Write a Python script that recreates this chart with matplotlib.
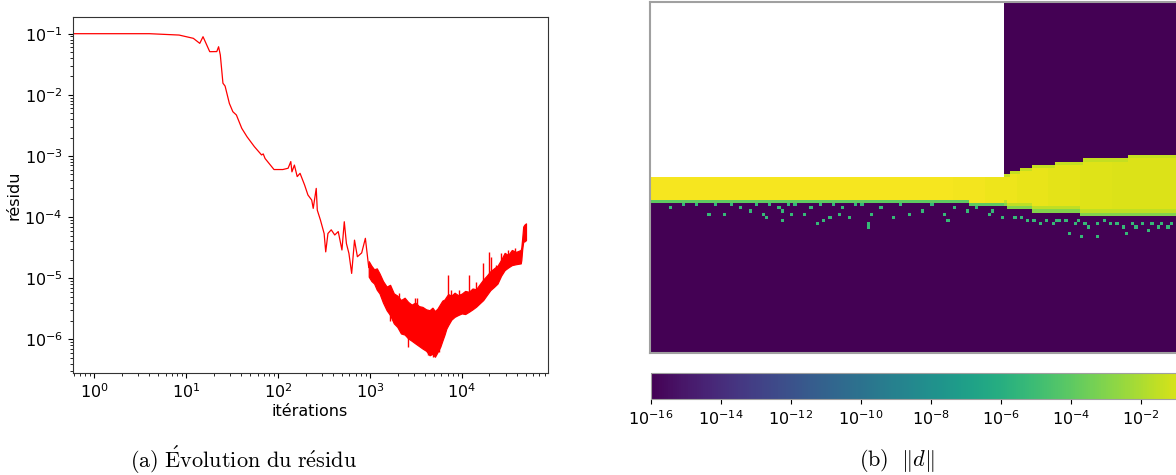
import numpy as np
import matplotlib.pyplot as plt
from matplotlib.colors import LogNorm

plt.rcParams['mathtext.fontset'] = 'cm'

# --- (a) évolution du résidu : courbe ---
iter_main = [0, 1, 4, 8.4, 12, 14.1, 15.3, 18.1, 21.6, 22.6, 23.6, 25.2, 26.6, 29.6,
             32.3, 35.3, 40.4, 46.1, 55.4, 66.3, 69.2, 72.4, 90.6, 113, 129, 138, 142,
             151, 162, 174, 195, 212, 233, 242, 261, 268, 290, 318, 331, 350, 380, 415,
             453, 497, 527, 556, 592, 634, 681, 732, 815, 894, 973]
res_main = [0.1, 0.1, 0.1, 0.095, 0.084, 0.0695, 0.0893, 0.0508, 0.051, 0.0612, 0.0448,
            0.0155, 0.0139, 0.00724, 0.0053, 0.00468, 0.00283, 0.00206, 0.00142, 0.00104,
            0.00108, 0.00091, 0.00060, 0.00060, 0.00063, 0.00081, 0.00055, 0.00071,
            0.00046, 0.00052, 0.000335, 0.00023, 0.00019, 0.000139, 0.000295, 0.00013,
            8.95e-5, 5.4e-5, 2.7e-5, 5.4e-5, 6.2e-5, 5.1e-5, 5.8e-5, 2.9e-5, 8.4e-5,
            3.7e-5, 2.55e-5, 1.2e-5, 4.2e-5, 2.25e-5, 2.6e-5, 4.5e-5, 1.5e-5]

# zone bruitée : enveloppes haute / basse
band_iter = [973, 1040, 1113, 1190, 1274, 1390, 1523, 1660, 1823, 1990, 2181, 2390, 2609,
             2850, 3120, 3420, 3733, 4100, 4467, 4800, 5108, 5450, 5843, 6150, 6500, 6800,
             7116, 7700, 8360, 9100, 10000, 10900, 11960, 13100, 14310, 15700, 17120,
             18700, 20480, 22400, 24500, 26800, 29300, 32000, 35080, 39000, 43850, 44500,
             45500, 46670, 48000, 50000]
band_hi = [1.9e-5, 1.6e-5, 1.4e-5, 1.45e-5, 1.2e-5, 9.0e-6, 7.3e-6, 7.8e-6, 5.65e-6, 5.2e-6,
           4.4e-6, 4.8e-6, 4.1e-6, 3.7e-6, 4.0e-6, 3.5e-6, 3.4e-6, 3.1e-6, 3.0e-6, 3.3e-6,
           2.9e-6, 3.2e-6, 3.8e-6, 4.3e-6, 4.5e-6, 5.0e-6, 5.5e-6, 5.2e-6, 5.8e-6, 5.3e-6,
           5.6e-6, 6.2e-6, 6.0e-6, 6.8e-6, 6.6e-6, 8.0e-6, 9.5e-6, 1.1e-5, 1.3e-5, 1.45e-5,
           1.6e-5, 2.0e-5, 2.6e-5, 2.4e-5, 2.9e-5, 2.7e-5, 2.9e-5, 3.2e-5, 4.5e-5, 7.0e-5,
           7.5e-5, 7.9e-5]
band_lo = [1.06e-5, 9.0e-6, 8.2e-6, 6.5e-6, 5.65e-6, 4.0e-6, 3.0e-6, 2.5e-6, 1.83e-6, 1.6e-6,
           1.25e-6, 1.2e-6, 1.04e-6, 9.5e-7, 8.6e-7, 7.8e-7, 7.1e-7, 6.5e-7, 5.5e-7, 5.8e-7,
           5.2e-7, 6.2e-7, 7.6e-7, 9.5e-7, 1.2e-6, 1.5e-6, 1.71e-6, 2.1e-6, 2.34e-6, 2.5e-6,
           2.66e-6, 2.6e-6, 2.83e-6, 3.1e-6, 3.42e-6, 3.9e-6, 4.4e-6, 5.3e-6, 6.4e-6, 7.2e-6,
           8.2e-6, 1.1e-5, 1.36e-5, 1.5e-5, 1.64e-5, 1.7e-5, 1.75e-5, 2.0e-5, 3.0e-5, 3.96e-5,
           4.0e-5, 4.2e-5]

# pics isolés (vers le haut et vers le bas)
spike_iter = [1667, 2084, 2609, 3120, 3265, 4270, 4870, 5590, 7116, 7640, 9390, 11960,
              14310, 17120, 19590, 21040, 23420, 26800, 32000, 38350]
spike_low = [2.0e-6, 3.0e-6, 7.5e-7, 2.0e-6, 3.0e-6, 5.5e-7, 5.2e-7, 6.3e-7, 4.0e-6,
             4.5e-6, 4.0e-6, 5.0e-6, 6.0e-6, 8.0e-6, 1.0e-5, 1.1e-5, 1.2e-5, 1.5e-5,
             2.0e-5, 2.2e-5]
spike_top = [4.0e-6, 5.65e-6, 2.0e-6, 4.7e-6, 4.7e-6, 1.5e-6, 1.5e-6, 1.8e-6, 1.13e-5,
             6.4e-6, 6.5e-6, 1.13e-5, 8.7e-6, 1.75e-5, 2.72e-5, 2.2e-5, 1.65e-5, 2.55e-5,
             2.9e-5, 3.1e-5]

# --- (b) champ ||d|| sur grille ---
ny, nx = 110, 176
step_cols, step_rows = 111, 55          # marche (zone blanche)
top_cols = [0, 111, 113, 116, 120, 127, 136, 150, 168]
top_rows = [55, 54, 53, 52, 51, 50, 49, 48, 47]
bot_cols = [0, 100, 112, 120, 135]
bot_rows = [63, 64, 65, 66, 67]
core_cols = [0, 95, 105, 115, 125, 135, 145]
core_vals = [0.6, 0.5, 0.4, 0.3, 0.22, 0.17, 0.14]
speck_cols = [6, 18, 23, 31, 35, 36, 41, 41, 44, 48, 52, 54, 56, 59, 62, 68, 68, 69, 76,
              81, 85, 92, 93, 99, 106, 107, 110, 114, 120, 122, 126, 130, 133, 136, 137,
              140, 144, 148, 149, 152, 156, 159, 162, 165, 131, 135, 140, 168, 171, 174,
              10, 14, 20, 25, 28, 33, 37, 40, 43, 45, 50, 53, 57, 60, 64, 66, 72, 78, 88,
              95, 102, 116, 124, 128, 142, 146, 154, 160, 170, 118, 127, 134, 151, 157,
              163, 167, 173]
speck_rows = [64, 66, 66, 65, 66, 67, 65, 68, 66, 66, 69, 68, 67, 66, 67, 69, 70, 66, 67,
              66, 65, 66, 68, 65, 66, 65, 67, 67, 68, 69, 69, 68, 69, 69, 70, 69, 69, 70,
              72, 70, 71, 70, 70, 71, 72, 73, 73, 70, 71, 70,
              63, 63, 63, 63, 64, 63, 63, 64, 63, 63, 64, 63, 63, 64, 63, 63, 64, 63, 63,
              64, 64, 67, 68, 68, 68, 69, 69, 69, 69, 68, 68, 68, 69, 69, 69, 68, 69]
speck_val = 10 ** -5.3

field = np.full((ny, nx), 1e-16)
for c in range(nx):
    t = top_rows[np.searchsorted(top_cols, c, side='right') - 1]
    b = bot_rows[np.searchsorted(bot_cols, c, side='right') - 1]
    v = core_vals[np.searchsorted(core_cols, c, side='right') - 1]
    field[t:b, c] = v
    if c >= step_cols:
        field[t, c] = 4e-2
        field[b - 2, c] = 3e-2
        field[b - 1, c] = 1e-3
    else:
        field[b - 1, c] = 1e-4
for c, r in zip(speck_cols, speck_rows):
    field[r, c] = speck_val
field[:step_rows, :step_cols] = np.nan
field = np.ma.masked_invalid(field)

fig = plt.figure(figsize=(11.76, 4.75), dpi=100)

ax = fig.add_axes([0.0617, 0.2147, 0.404, 0.7495])
ax.plot(iter_main, res_main, color='red', lw=0.9)
ax.fill_between(band_iter, band_lo, band_hi, color='red', lw=0.9)
ax.vlines(spike_iter, spike_low, spike_top, color='red', lw=1.0)
ax.set_xscale('log')
ax.set_yscale('log')
ax.set_xlim(10 ** -0.235, 10 ** 4.935)
ax.set_ylim(10 ** -6.55, 10 ** -0.727)
ax.set_xlabel('itérations', fontsize=11.5, labelpad=2)
ax.set_ylabel('résidu', fontsize=11.5, labelpad=2)
ax.tick_params(labelsize=11.5)
for s in ax.spines.values():
    s.set_color('#333333')

cmap = plt.get_cmap('viridis').copy()
cmap.set_bad('white')
axi = fig.add_axes([0.5527, 0.2575, 0.4762, 0.7383])
im = axi.imshow(field, cmap=cmap, norm=LogNorm(1e-16, 1), interpolation='nearest',
                aspect='auto')
axi.set_xticks([])
axi.set_yticks([])
for s in axi.spines.values():
    s.set_color('#a0a0a0')
    s.set_linewidth(1.5)

cax = fig.add_axes([0.5533, 0.1594, 0.4762, 0.056])
cb = fig.colorbar(im, cax=cax, orientation='horizontal',
                  ticks=[10.0 ** k for k in range(-16, -1, 2)])
cb.ax.minorticks_off()
cb.ax.tick_params(labelsize=11.5)
cb.outline.set_edgecolor('#a0a0a0')

fig.text(243 / 1176, 1 - 460 / 475, r'$\mathrm{(a)\ \acute{E}volution\ du\ r\acute{e}sidu}$',
         ha='center', va='center', fontsize=16)
fig.text(897 / 1176, 1 - 460 / 475, r'$\mathrm{(b)}\ \ \|d\|$',
         ha='center', va='center', fontsize=16)

fig.savefig('out.png', dpi=100)
